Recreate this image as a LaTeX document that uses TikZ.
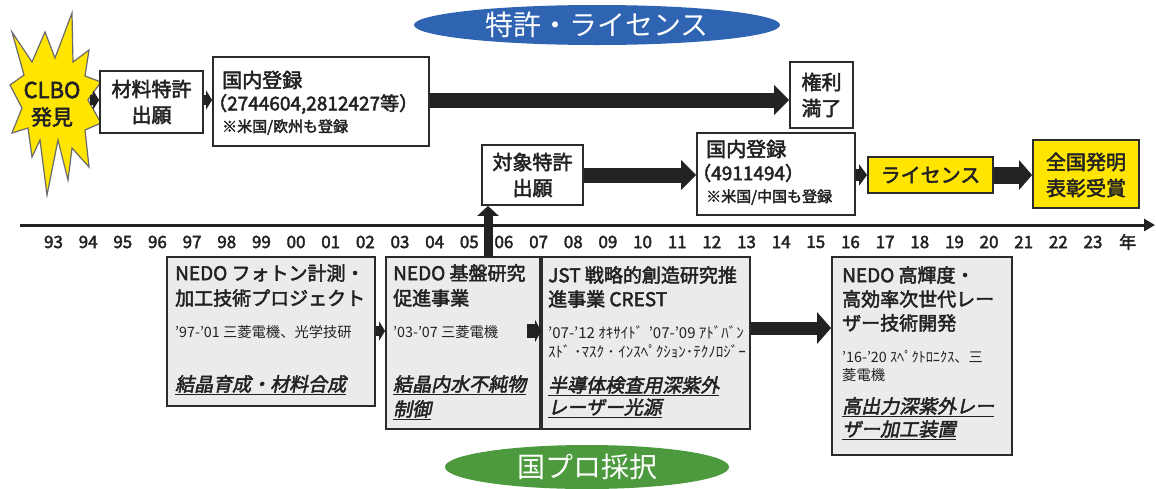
\documentclass[tikz,border=0pt]{standalone}
\usepackage{fontspec}
\setmainfont{Noto Sans CJK JP}[AutoFakeSlant=0.2,AutoFakeBold=2.4]
\usetikzlibrary{arrows.meta,calc,shapes.geometric}
\definecolor{ink}{HTML}{222222}
\definecolor{frame}{HTML}{2B2B2B}
\definecolor{boxgray}{HTML}{EAEBED}
\definecolor{hiyellow}{HTML}{FFE500}
\definecolor{patblue}{HTML}{2F64B3}
\definecolor{progreen}{HTML}{4C9A3D}
\definecolor{starline}{HTML}{6A6A6A}
\newcommand{\szH}{\fontsize{20}{24}\selectfont}
\newcommand{\szM}{\fontsize{19}{23}\selectfont}
\newcommand{\szS}{\fontsize{15}{18}\selectfont}
\newcommand{\szT}{\fontsize{14.3}{16}\selectfont}
\newcommand{\szBig}{\fontsize{28}{32}\selectfont}
\begin{document}
\begin{tikzpicture}[x=1pt,y=-1pt,
  wbox/.style={draw=frame,line width=1.8pt,fill=white,inner sep=0,rectangle},
  gbox/.style={draw=frame,line width=1.8pt,fill=boxgray,inner sep=0,rectangle},
  ybox/.style={draw=frame,line width=1.8pt,fill=hiyellow,inner sep=0,rectangle},
  txt/.style={inner sep=0,text=ink,anchor=west},
  ctxt/.style={inner sep=0,text=ink,anchor=center},
  yr/.style={inner sep=0,text=ink,font=\fontsize{17}{19}\selectfont\bfseries},
  bigarrow/.style={draw=ink,line width=15pt,-{Triangle[length=15pt,width=29pt]}},
  midarrow/.style={draw=ink,line width=13pt,-{Triangle[length=14pt,width=31pt]}},
  smallarrow/.style={draw=ink,line width=10pt,-{Triangle[length=6pt,width=19pt]}},
  uparrow/.style={draw=ink,line width=9pt,-{Triangle[length=10pt,width=21pt]}},
]
\useasboundingbox (0,0) rectangle (1156,488);
\fill[white] (0,0) rectangle (1156,488);

% ellipses
\node[ellipse,fill=patblue,minimum width=366pt,minimum height=40pt,inner sep=0,text=white,font=\szBig] (pat) at (597,25) {特許・ライセンス};
\node[ellipse,fill=progreen,minimum width=284pt,minimum height=44pt,inner sep=0,text=white,font=\szBig] (pro) at (587,467) {国プロ採択};

% star
\filldraw[fill=hiyellow,draw=starline,line width=1.2pt,line join=miter]
 (12,32) -- (32,62) -- (45,32) -- (55,58) -- (72,13) -- (73,62) -- (89,50) -- (85,76)
 -- (101,82) -- (88,100) -- (101,123) -- (85,130) -- (89,167) -- (72,148) -- (68,180)
 -- (58,140) -- (47,195) -- (40,140) -- (32,157) -- (28,128) -- (12,133) -- (22,108)
 -- (10,85) -- (24,75) -- cycle;
\node[ctxt,font=\fontsize{22}{24}\selectfont\bfseries] (clbo) at (52,90) {CLBO};
\node[ctxt,font=\fontsize{21}{24}\selectfont\bfseries] (hakken) at (52,117) {発見};
\coordinate (startip) at (90,100);
\coordinate (row1) at (0,100);
\coordinate (row2) at (0,175);
\coordinate (row3) at (0,331);
\coordinate (row3b) at (0,328);

% top row boxes
\node[wbox,minimum width=103pt,minimum height=62pt] (mat) at (151.5,102) {};
\node[ctxt,font=\szH\bfseries] (matA) at (151.5,89) {材料特許};
\node[ctxt,font=\szH\bfseries] (matB) at (151.5,115) {出願};

\node[wbox,minimum width=216pt,minimum height=89pt] (kok1) at (321,101.5) {};
\node[txt,font=\szH\bfseries] (kok1A) at (222,80) {国内登録};
\node[txt,font=\szM\bfseries] (kok1B) at (208,104) {（2744604,2812427等）};
\node[txt,font=\szS\bfseries] (kok1C) at (222,127) {※米国/欧州も登録};

\node[wbox,minimum width=63pt,minimum height=66pt] (kenri) at (821.5,95) {};
\node[ctxt,font=\szH\bfseries] (kenriA) at (821.5,82) {権利};
\node[ctxt,font=\szH\bfseries] (kenriB) at (821.5,108) {満了};

% second row
\node[wbox,minimum width=101pt,minimum height=60pt] (taisho) at (532.5,175) {};
\node[ctxt,font=\szH\bfseries] (taishoA) at (532.5,162) {対象特許};
\node[ctxt,font=\szH\bfseries] (taishoB) at (532.5,188) {出願};

\node[wbox,minimum width=158pt,minimum height=82pt] (kok2) at (776,174) {};
\node[txt,font=\szH\bfseries] (kok2A) at (706,149) {国内登録};
\node[txt,font=\szM\bfseries] (kok2B) at (692,173) {（4911494）};
\node[txt,font=\szS\bfseries] (kok2C) at (706,197) {※米国/中国も登録};

\node[ybox,minimum width=125pt,minimum height=36pt,font=\szH\bfseries,text=ink] (lic) at (930.5,175) {ライセンス};

\node[ybox,minimum width=106pt,minimum height=68pt] (zen) at (1086,174) {};
\node[ctxt,font=\szH\bfseries] (zenA) at (1086,162) {全国発明};
\node[ctxt,font=\szH\bfseries] (zenB) at (1086,188) {表彰受賞};

% axis
\coordinate (axL) at (20,225);
\coordinate (axR) at (1155,225);
\draw[draw=ink,line width=3pt,-{Triangle[length=11pt,width=12pt]}] (axL) -- (axR);
\foreach \lab [count=\i from 0] in {93,94,95,96,97,98,99,00,01,02,03,04,05,06,07,08,09,10,11,12,13,14,15,16,17,18,19,20,21,22,23,年}
  \node[yr] (yr\i) at ({53.5+34.65*\i},242) {\lab};

% bottom boxes
\node[gbox,minimum width=208pt,minimum height=149pt] (photon) at (271,331.5) {};
\node[txt,font=\szM\bfseries] (phA) at (175,273) {NEDO フォトン計測・};
\node[txt,font=\szM\bfseries] (phB) at (175,298) {加工技術プロジェクト};
\node[txt,font=\szT] (phC) at (175,332) {'97-'01 三菱電機、光学技研};
\node[txt,font=\szM\bfseries\itshape] (phD) at (175,385) {\underline{結晶育成・材料合成}};

\node[gbox,minimum width=154pt,minimum height=172pt] (kiban) at (463,343) {};
\node[txt,font=\szM\bfseries] (kiA) at (393,273) {NEDO 基盤研究};
\node[txt,font=\szM\bfseries] (kiB) at (393,298) {促進事業};
\node[txt,font=\szT] (kiC) at (393,332) {'03-'07 三菱電機};
\node[txt,font=\szM\bfseries\itshape] (kiD) at (393,385) {\underline{結晶内水不純物}};
\node[txt,font=\szM\bfseries\itshape] (kiE) at (393,410) {\underline{制御}};

\node[gbox,minimum width=208pt,minimum height=172pt] (jst) at (646,343) {};
\node[txt,font=\szM\bfseries] (jsA) at (548,275) {JST 戦略的創造研究推};
\node[txt,font=\szM\bfseries] (jsB) at (548,299) {進事業 CREST};
\node[txt,font=\fontsize{15}{17}\selectfont] (jsC) at (548,332) {'07-'12 ｵｷｻｲﾄﾞ\hspace{2pt} '07-'09 ｱﾄﾞﾊﾞﾝ};
\node[txt,font=\fontsize{15}{17}\selectfont] (jsD) at (548,351) {ｽﾄﾞ ･ﾏｽｸ ･ ｲﾝｽﾍﾟｸｼｮﾝ･ﾃｸﾉﾛｼﾞｰ};
\node[txt,font=\szM\bfseries\itshape] (jsE) at (548,386) {\underline{半導体検査用深紫外}};
\node[txt,font=\szM\bfseries\itshape] (jsF) at (548,408) {\underline{レーザー光源}};

\node[gbox,minimum width=180pt,minimum height=198pt] (koki) at (922,356) {};
\node[txt,font=\szM\bfseries] (koA) at (842,275) {NEDO 高輝度・};
\node[txt,font=\szM\bfseries] (koB) at (842,299) {高効率次世代レー};
\node[txt,font=\szM\bfseries] (koC) at (842,323) {ザー技術開発};
\node[txt,font=\szT] (koD) at (842,357) {'16-'20 ｽﾍﾟｸﾄﾛﾆｸｽ、三};
\node[txt,font=\szT] (koE) at (842,375) {菱電機};
\node[txt,font=\szM\bfseries\itshape] (koF) at (842,407) {\underline{高出力深紫外レー}};
\node[txt,font=\szM\bfseries\itshape] (koG) at (842,430) {\underline{ザー加工装置}};

% connectors
\draw[smallarrow] (startip |- row1) -- (mat.west |- row1);
\draw[smallarrow] (mat.east |- row1) -- (kok1.west |- row1);
\draw[bigarrow] (kok1.east |- row1) -- (kenri.west |- row1);

\draw[bigarrow] (taisho.east |- row2) -- (kok2.west |- row2);
\draw[draw=ink,line width=12pt,-{Triangle[length=8pt,width=21pt]}] (kok2.east |- row2) -- (lic.west |- row2);
\draw[draw=ink,line width=17pt,-{Triangle[length=13pt,width=29pt]}] (lic.east |- row2) -- (zen.west |- row2);

\coordinate (upstart) at (488,257);
\draw[uparrow] (upstart) -- (upstart |- taisho.south);

\draw[smallarrow] (photon.east |- row3) -- (kiban.west |- row3);
\coordinate (kibanin) at (527,331);
\draw[draw=ink,line width=14pt,-{Triangle[length=6pt,width=22pt]}] (kibanin) -- (jst.west |- row3);
\draw[midarrow] (jst.east |- row3b) -- (koki.west |- row3b);
\end{tikzpicture}
\end{document}
